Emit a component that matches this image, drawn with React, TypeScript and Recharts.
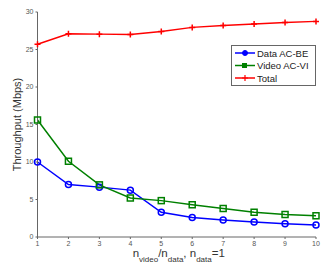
import React from 'react';
import { LineChart, Line, XAxis, YAxis, Legend } from 'recharts';

const ratios = [1, 2, 3, 4, 5, 6, 7, 8, 9, 10];
const dataBE = [10.0, 7.0, 6.65, 6.25, 3.3, 2.6, 2.26, 2.0, 1.77, 1.6];
const videoVI = [15.6, 10.1, 6.95, 5.2, 4.85, 4.3, 3.8, 3.3, 3.0, 2.83];
const total = [25.7, 27.1, 27.05, 27.0, 27.4, 27.95, 28.2, 28.4, 28.6, 28.75];
const yTicks = [0, 5, 10, 15, 20, 25, 30];

const BLUE = '#0000ff';
const GREEN = '#008000';
const RED = '#ff0000';
const AXIS = '#666';
const FONT = '"Liberation Sans", Arial, sans-serif';

const rows = ratios.map((r, i) => ({ r, be: dataBE[i], vi: videoVI[i], tot: total[i] }));

const Circle = (p: any) => (
  <circle key={p.key} cx={p.cx} cy={p.cy} r={3} fill="none" stroke={BLUE} strokeWidth={1.5} />
);
const Square = (p: any) => (
  <rect key={p.key} x={p.cx - 3} y={p.cy - 3} width={6} height={6} fill="none" stroke={GREEN} strokeWidth={1.5} />
);
const Plus = (p: any) => (
  <path key={p.key} d={`M${p.cx - 3},${p.cy}H${p.cx + 3}M${p.cx},${p.cy - 3}V${p.cy + 3}`} stroke={RED} strokeWidth={1.5} />
);

const legendItems = [
  { name: 'Data AC-BE', color: BLUE, mark: 'o' },
  { name: 'Video AC-VI', color: GREEN, mark: 's' },
  { name: 'Total', color: RED, mark: '+' },
];

const LegendBox = () => (
  <svg width={85} height={41} style={{ display: 'block' }}>
    <rect x={0.5} y={0.5} width={84} height={40} fill="#fff" stroke={AXIS} />
    {legendItems.map((it, i) => {
      const y = 8 + i * 12.5;
      return (
        <g key={it.name}>
          <line x1={4} x2={24} y1={y} y2={y} stroke={it.color} strokeWidth={1.5} />
          {it.mark === 'o' && <circle cx={14} cy={y} r={2.5} fill={it.color} stroke={it.color} />}
          {it.mark === 's' && <rect x={11} y={y - 2.5} width={5} height={5} fill={it.color} />}
          {it.mark === '+' && <path d={`M11,${y}H17M14,${y - 3}V${y + 3}`} stroke={it.color} strokeWidth={1.2} />}
          <text x={26} y={y + 3.5} fontSize={9.5} fontFamily={FONT} fill="#222">{it.name}</text>
        </g>
      );
    })}
  </svg>
);

const XLabel = (props: any) => {
  const vb = props.viewBox;
  const cx = vb.x + vb.width / 2 + 2;
  return (
    <text x={cx} y={257} textAnchor="middle" fontFamily={FONT} fill="#333" fontSize={11.5}>
      <tspan>n</tspan>
      <tspan fontSize={8} dy={5}>video</tspan>
      <tspan dy={-5}>/n</tspan>
      <tspan fontSize={8} dy={5}>data</tspan>
      <tspan dy={-5}>, n</tspan>
      <tspan fontSize={8} dy={5}>data</tspan>
      <tspan dy={-5}>=1</tspan>
    </text>
  );
};

export default function App() {
  return (
    <div style={{ position: 'absolute', left: 0, top: 0, width: 332, height: 273, background: '#fff' }}>
      <LineChart width={332} height={273} data={rows} margin={{ top: 12, right: 16, bottom: 0, left: 0 }}>
        <XAxis
          dataKey="r"
          type="number"
          domain={[1, 10]}
          ticks={ratios}
          height={36}
          stroke={AXIS}
          tickSize={2}
          tick={{ fontSize: 7, fill: '#555', fontFamily: FONT }}
          label={<XLabel />}
        />
        <XAxis
          xAxisId="top"
          dataKey="r"
          type="number"
          orientation="top"
          domain={[1, 10]}
          ticks={ratios}
          height={0}
          axisLine={false}
          mirror
          tickSize={3}
          tick={false}
          stroke={AXIS}
        />
        <YAxis
          domain={[0, 30]}
          ticks={yTicks}
          width={37.5}
          stroke={AXIS}
          tickSize={2}
          tick={{ fontSize: 7, fill: '#555', fontFamily: FONT }}
          label={{
            value: 'Throughput (Mbps)',
            angle: -90,
            position: 'insideLeft',
            offset: 17,
            style: { textAnchor: 'middle', fontSize: 11, fill: '#333', fontFamily: FONT },
          }}
        />
        <YAxis
          yAxisId="right"
          orientation="right"
          domain={[0, 30]}
          ticks={yTicks}
          width={0}
          mirror
          tickSize={3}
          tick={false}
          stroke={AXIS}
        />
        <Legend
          verticalAlign="middle"
          align="center"
          content={<LegendBox />}
          wrapperStyle={{ position: 'absolute', left: 231, top: 45, width: 85, height: 41 }}
        />
        <Line dataKey="be" name="Data AC-BE" stroke={BLUE} strokeWidth={1.5} dot={<Circle />} isAnimationActive={false} />
        <Line dataKey="vi" name="Video AC-VI" stroke={GREEN} strokeWidth={1.5} dot={<Square />} isAnimationActive={false} />
        <Line dataKey="tot" name="Total" stroke={RED} strokeWidth={1.5} dot={<Plus />} isAnimationActive={false} />
      </LineChart>
    </div>
  );
}
